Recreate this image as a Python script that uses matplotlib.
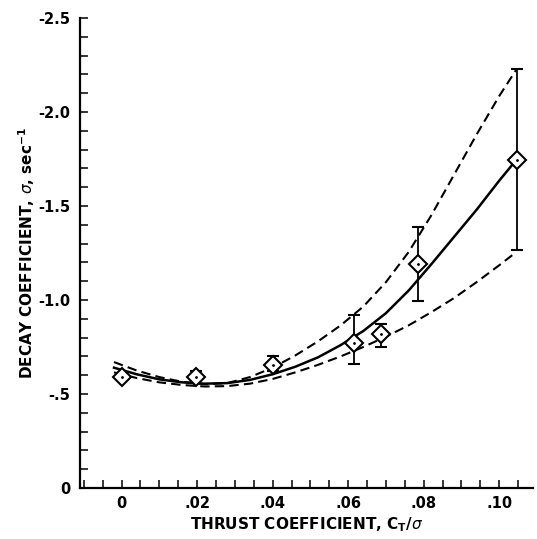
import matplotlib
matplotlib.use('Agg')
import matplotlib.pyplot as plt
from matplotlib.ticker import MultipleLocator, FixedLocator, FixedFormatter

# measured points
ct = [0.0, 0.0196, 0.040, 0.0615, 0.0687, 0.0785, 0.1048]
decay = [-0.59, -0.59, -0.655, -0.77, -0.82, -1.19, -1.745]
err_neg = [0.0, 0.03, 0.045, 0.15, 0.05, 0.20, 0.485]   # toward more negative
err_pos = [0.0, 0.0, 0.03, 0.11, 0.07, 0.195, 0.48]

# faired curve
fit_x = [-0.002, 0.004, 0.010, 0.016, 0.022, 0.028, 0.034, 0.040, 0.046, 0.052,
         0.058, 0.064, 0.070, 0.076, 0.082, 0.088, 0.094, 0.100, 0.1045]
fit_y = [-0.64, -0.605, -0.578, -0.562, -0.555, -0.558, -0.575, -0.605, -0.645, -0.695,
         -0.76, -0.835, -0.93, -1.05, -1.19, -1.335, -1.48, -1.635, -1.745]

# bounds
upper_x = [-0.002, 0.004, 0.010, 0.016, 0.022, 0.028, 0.034, 0.040, 0.046, 0.052,
           0.058, 0.064, 0.070, 0.076, 0.082, 0.088, 0.094, 0.100, 0.1045]
upper_y = [-0.67, -0.625, -0.59, -0.565, -0.552, -0.558, -0.59, -0.64, -0.705, -0.78,
           -0.865, -0.965, -1.095, -1.255, -1.45, -1.665, -1.88, -2.085, -2.225]
lower_x = [-0.002, 0.004, 0.010, 0.016, 0.022, 0.028, 0.034, 0.040, 0.046, 0.052,
           0.058, 0.064, 0.070, 0.076, 0.082, 0.088, 0.094, 0.100, 0.1045]
lower_y = [-0.615, -0.585, -0.562, -0.548, -0.54, -0.542, -0.555, -0.58, -0.615, -0.655,
           -0.70, -0.75, -0.805, -0.865, -0.935, -1.01, -1.095, -1.185, -1.255]

xticks = [0, 0.02, 0.04, 0.06, 0.08, 0.10]
xlabels = ['0', '.02', '.04', '.06', '.08', '.10']
yticks = [0, -0.5, -1.0, -1.5, -2.0, -2.5]
ylabels = ['0', '-.5', '-1.0', '-1.5', '-2.0', '-2.5']

plt.rcParams['font.family'] = ['DejaVu Sans']

fig = plt.figure(figsize=(5.37, 5.39), dpi=100)
ax = fig.add_axes([0.149, 0.0946, 0.844, 0.872])

dash = (0, (4.5, 2.5))
ax.plot(fit_x, fit_y, color='black', lw=1.8)
ax.plot(upper_x, upper_y, color='black', lw=1.5, ls=dash)
ax.plot(lower_x, lower_y, color='black', lw=1.5, ls=dash)

ax.errorbar(ct, decay, yerr=[err_neg, err_pos], fmt='none', ecolor='black',
            elinewidth=1.3, capsize=4.5, capthick=1.5)
ax.plot(ct, decay, 'D', ms=9.5, mfc='white', mec='black', mew=1.5, ls='none')
ax.plot(ct, decay, '.', ms=2, color='black', ls='none')

ax.set_xlim(-0.011, 0.109)
ax.set_ylim(0, -2.5)

ax.xaxis.set_major_locator(FixedLocator(xticks))
ax.xaxis.set_major_formatter(FixedFormatter(xlabels))
ax.xaxis.set_minor_locator(MultipleLocator(0.005))
ax.yaxis.set_major_locator(FixedLocator(yticks))
ax.yaxis.set_major_formatter(FixedFormatter(ylabels))
ax.yaxis.set_minor_locator(MultipleLocator(0.1))

ax.tick_params(which='both', direction='in', length=6, width=1.1)
ax.tick_params(axis='x', pad=6, labelsize=10.5)
ax.tick_params(axis='y', pad=7, labelsize=10.5)
for lab in ax.get_xticklabels() + ax.get_yticklabels():
    lab.set_fontweight('bold')

for s in ['top', 'right']:
    ax.spines[s].set_visible(False)
for s in ['left', 'bottom']:
    ax.spines[s].set_linewidth(1.6)

ax.set_xlabel(r'THRUST COEFFICIENT, C$_\mathbf{T}$/$\sigma$', fontsize=11,
              fontweight='bold', labelpad=3)
ax.set_ylabel(r'DECAY COEFFICIENT, $\sigma$, sec$^\mathbf{-1}$', fontsize=11,
              fontweight='bold', labelpad=1)

plt.savefig('out.png', dpi=100)
